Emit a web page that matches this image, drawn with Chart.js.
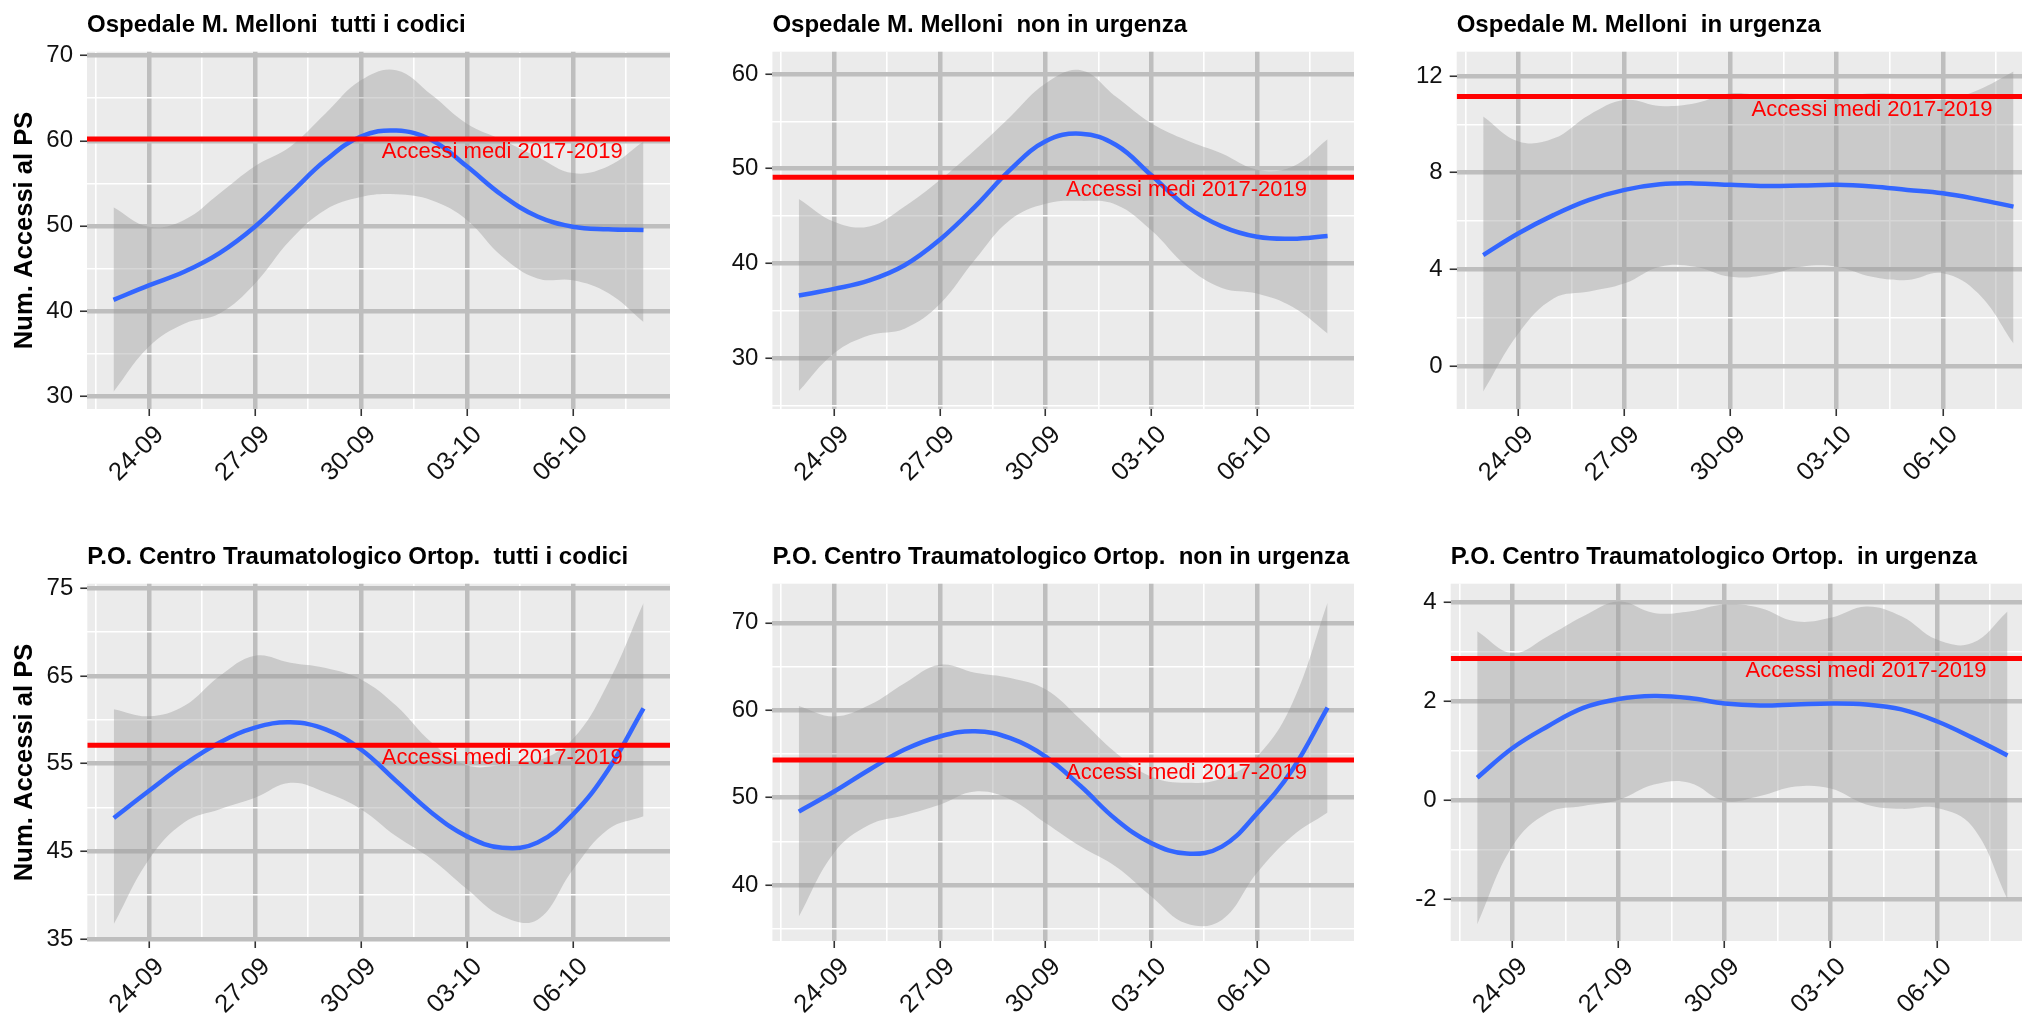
<!DOCTYPE html>
<html>
<head>
<meta charset="utf-8">
<script src="https://cdn.jsdelivr.net/npm/chart.js@4.4.0/dist/chart.umd.min.js"></script>
<style>
  html, body { margin: 0; padding: 0; background: #fff; overflow: hidden; }
  body { width: 2022px; height: 1016px; position: relative; }
  canvas { position: absolute; }
</style>
</head>
<body>
<canvas id="c1" width="680" height="484" style="left:0px;top:0px"></canvas>
<canvas id="c2" width="680" height="484" style="left:680px;top:0px"></canvas>
<canvas id="c3" width="690" height="484" style="left:1360px;top:0px"></canvas>
<canvas id="c4" width="680" height="484" style="left:0px;top:532px"></canvas>
<canvas id="c5" width="680" height="484" style="left:680px;top:532px"></canvas>
<canvas id="c6" width="690" height="484" style="left:1360px;top:532px"></canvas>
<script>
// days from 23-09 to 08-10
const dates = ["23-09", "24-09", "25-09", "26-09", "27-09", "28-09", "29-09", "30-09",
               "01-10", "02-10", "03-10", "04-10", "05-10", "06-10", "07-10", "08-10"];
const xMajor = [1, 4, 7, 10, 13];
const xMinor = [-0.5, 2.5, 5.5, 8.5, 11.5, 14.5];
const refText = "Accessi medi 2017-2019";
const refAt = 11; // 04-10

// Ospedale M. Melloni - tutti i codici
const p1Fit   = [41.3, 43.0, 44.6, 46.8, 49.9, 53.8, 57.7, 60.5, 61.2, 60.1, 57.0, 53.6, 51.1, 49.9, 49.6, 49.5];
const p1Upper = [52.2, 49.9, 50.7, 53.8, 57.0, 59.3, 63.2, 67.1, 68.3, 65.4, 62.0, 60.1, 58.1, 56.2, 57.0, 59.9];
const p1Lower = [30.5, 35.8, 38.5, 39.7, 43.2, 48.3, 51.9, 53.4, 53.7, 53.0, 50.7, 46.4, 43.8, 43.6, 42.1, 38.7];
const p1Mean = 60.2;
const p1Ticks = [30, 40, 50, 60, 70];
const p1Minor = [35, 45, 55, 65];

// Ospedale M. Melloni - non in urgenza
const p2Fit   = [36.6, 37.3, 38.2, 39.8, 42.5, 46.0, 49.9, 52.9, 53.7, 52.5, 49.3, 46.0, 43.9, 42.8, 42.6, 42.9];
const p2Upper = [46.8, 44.4, 43.9, 46.0, 48.8, 52.0, 55.5, 59.0, 60.4, 57.6, 54.8, 53.0, 51.6, 49.9, 50.2, 53.1];
const p2Lower = [26.5, 30.5, 32.4, 33.1, 35.7, 40.4, 44.6, 46.3, 46.6, 46.2, 43.5, 39.7, 37.4, 36.8, 35.4, 32.6];
const p2Mean = 49.1;
const p2Ticks = [30, 40, 50, 60];
const p2Minor = [25, 35, 45, 55];

// Ospedale M. Melloni - in urgenza
const p3Fit   = [4.6, 5.5, 6.26, 6.88, 7.29, 7.52, 7.56, 7.5, 7.45, 7.47, 7.5, 7.43, 7.29, 7.15, 6.9, 6.6];
const p3Upper = [10.32, 9.29, 9.42, 10.39, 11.0, 10.76, 10.87, 11.28, 11.15, 11.0, 11.08, 11.28, 11.21, 11.0, 11.42, 12.18];
const p3Lower = [-1.04, 1.37, 2.81, 3.09, 3.43, 4.12, 4.12, 3.7, 3.78, 4.12, 4.12, 3.7, 3.57, 3.85, 3.02, 0.95];
const p3Mean = 11.15;
const p3Ticks = [0, 4, 8, 12];
const p3Minor = [2, 6, 10];

// P.O. Centro Traumatologico Ortop. - tutti i codici
const p4Fit   = [48.8, 51.9, 54.9, 57.4, 59.1, 59.7, 58.9, 56.6, 53.0, 49.4, 46.7, 45.4, 46.0, 49.2, 54.3, 61.3];
const p4Upper = [61.2, 60.4, 61.6, 65.0, 67.3, 66.5, 65.9, 64.6, 61.6, 57.4, 54.8, 54.8, 55.3, 57.8, 64.2, 73.3];
const p4Lower = [36.7, 44.1, 48.3, 49.8, 51.1, 52.8, 51.7, 49.8, 46.7, 44.1, 40.7, 37.6, 37.2, 42.9, 47.5, 49.0];
const p4Mean = 57.1;
const p4Ticks = [35, 45, 55, 65, 75];
const p4Minor = [40, 50, 60, 70];

// P.O. Centro Traumatologico Ortop. - non in urgenza
const p5Fit   = [48.4, 50.7, 53.2, 55.5, 57.0, 57.6, 56.8, 54.7, 51.3, 47.5, 44.8, 43.6, 44.4, 48.2, 53.2, 60.3];
const p5Upper = [60.5, 59.3, 60.6, 63.1, 65.2, 64.3, 63.7, 62.4, 58.9, 55.1, 52.4, 51.7, 52.2, 54.7, 60.8, 72.3];
const p5Lower = [36.4, 43.7, 46.9, 48.0, 49.2, 50.7, 49.8, 47.1, 44.4, 42.1, 38.7, 35.6, 36.0, 41.4, 45.6, 48.3];
const p5Mean = 54.3;
const p5Ticks = [40, 50, 60, 70];
const p5Minor = [35, 45, 55, 65];

// P.O. Centro Traumatologico Ortop. - in urgenza
const p6Fit   = [0.45, 1.05, 1.49, 1.86, 2.04, 2.10, 2.06, 1.95, 1.91, 1.93, 1.95, 1.93, 1.83, 1.59, 1.26, 0.90];
const p6Upper = [3.41, 2.97, 3.31, 3.71, 4.01, 3.78, 3.81, 3.95, 3.88, 3.61, 3.68, 3.91, 3.71, 3.24, 3.17, 3.81];
const p6Lower = [-2.51, -0.93, -0.26, -0.12, 0.0, 0.31, 0.35, -0.02, 0.08, 0.27, 0.23, -0.09, -0.18, -0.16, -0.53, -2.0];
const p6Mean = 2.86;
const p6Ticks = [-2, 0, 2, 4];
const p6Minor = [-1, 1, 3];

Chart.defaults.font.family = "'Liberation Sans', Arial, sans-serif";

const panelBg = {
  id: "panelBg",
  beforeDraw(chart) {
    const a = chart.chartArea;
    const ctx = chart.ctx;
    ctx.save();
    ctx.fillStyle = "#EBEBEB";
    ctx.fillRect(a.left, a.top, a.width, a.height);
    ctx.restore();
  }
};

const refLabel = {
  id: "refLabel",
  afterDatasetsDraw(chart, args, opts) {
    const ctx = chart.ctx;
    const x = chart.scales.x.getPixelForValue(opts.at);
    const y = chart.scales.y.getPixelForValue(opts.value);
    ctx.save();
    ctx.font = "22px 'Liberation Sans', Arial, sans-serif";
    ctx.fillStyle = "#FF0000";
    ctx.textAlign = "center";
    ctx.textBaseline = "middle";
    ctx.fillText(opts.text, x, y + 13);
    ctx.restore();
  }
};

function pts(arr) {
  return arr.map((v, i) => ({ x: i, y: v }));
}

function makePanel(id, p) {
  const yAll = p.ticks.concat(p.minor).sort((a, b) => a - b);
  const xAll = xMajor.concat(xMinor).sort((a, b) => a - b);
  const xMin = -0.75, xMax = 15.75;
  const gridFor = (majors) => ({
    color: (c) => majors.includes(c.tick.value) ? "#BEBEBE" : "#FFFFFF",
    lineWidth: (c) => majors.includes(c.tick.value) ? 4.5 : 1.6,
    tickColor: (c) => majors.includes(c.tick.value) ? "#333333" : "rgba(0,0,0,0)",
    tickWidth: 1.6,
    tickLength: 7
  });

  new Chart(document.getElementById(id), {
    type: "line",
    data: {
      datasets: [
        {
          data: [{ x: xMin, y: p.mean }, { x: xMax, y: p.mean }],
          borderColor: "#FF0000",
          borderWidth: 5,
          pointRadius: 0,
          fill: false
        },
        {
          data: pts(p.fit),
          borderColor: "#3366FF",
          borderWidth: 4.5,
          pointRadius: 0,
          tension: 0.4,
          fill: false
        },
        {
          data: pts(p.upper),
          borderColor: "rgba(0,0,0,0)",
          borderWidth: 0,
          pointRadius: 0,
          tension: 0.4,
          backgroundColor: "rgba(153,153,153,0.4)",
          fill: "+1"
        },
        {
          data: pts(p.lower),
          borderColor: "rgba(0,0,0,0)",
          borderWidth: 0,
          pointRadius: 0,
          tension: 0.4,
          fill: false
        }
      ]
    },
    options: {
      responsive: false,
      animation: false,
      events: [],
      layout: { padding: { left: 0, right: p.padRight, top: 0, bottom: 0 } },
      scales: {
        x: {
          type: "linear",
          min: xMin,
          max: xMax,
          afterBuildTicks: (s) => { s.ticks = xAll.map((v) => ({ value: v })); },
          afterFit: (s) => { s.height = 75; },
          border: { display: false },
          grid: gridFor(xMajor),
          ticks: {
            autoSkip: false,
            maxRotation: 45,
            minRotation: 45,
            padding: 4,
            labelOffset: 11,
            color: "#111111",
            font: { size: 25.5 },
            callback: (v) => xMajor.includes(v) ? dates[v] : ""
          }
        },
        y: {
          min: p.yMin,
          max: p.yMax,
          afterBuildTicks: (s) => { s.ticks = yAll.map((v) => ({ value: v })); },
          afterFit: (s) => { s.width = p.yWidth; },
          border: { display: false },
          grid: gridFor(p.ticks),
          ticks: {
            padding: 7,
            color: "#111111",
            font: { size: 24 },
            callback: (v) => p.ticks.includes(v) ? String(v) : ""
          },
          title: {
            display: p.yTitle,
            text: "Num. Accessi al PS",
            color: "#000000",
            font: { size: 25.6, weight: "bold" },
            padding: { top: 10, bottom: 0 }
          }
        }
      },
      plugins: {
        legend: { display: false },
        tooltip: { enabled: false },
        title: {
          display: true,
          text: p.title,
          align: "start",
          fullSize: false,
          color: "#000000",
          font: { size: 24, weight: "bold" },
          padding: { top: 11.4, bottom: 11.5 }
        },
        refLabel: { text: refText, at: refAt, value: p.mean }
      }
    },
    plugins: [panelBg, refLabel]
  });
}

document.addEventListener("DOMContentLoaded", function () {
  makePanel("c1", { title: "Ospedale M. Melloni  tutti i codici", fit: p1Fit, upper: p1Upper, lower: p1Lower,
    mean: p1Mean, ticks: p1Ticks, minor: p1Minor, yMin: 28.47, yMax: 70.47, yWidth: 87, padRight: 10, yTitle: true });
  makePanel("c2", { title: "Ospedale M. Melloni  non in urgenza", fit: p2Fit, upper: p2Upper, lower: p2Lower,
    mean: p2Mean, ticks: p2Ticks, minor: p2Minor, yMin: 24.61, yMax: 62.36, yWidth: 92.4, padRight: 6, yTitle: false });
  makePanel("c3", { title: "Ospedale M. Melloni  in urgenza", fit: p3Fit, upper: p3Upper, lower: p3Lower,
    mean: p3Mean, ticks: p3Ticks, minor: p3Minor, yMin: -1.76, yMax: 13.0, yWidth: 96.7, padRight: 10, yTitle: false });
  makePanel("c4", { title: "P.O. Centro Traumatologico Ortop.  tutti i codici", fit: p4Fit, upper: p4Upper, lower: p4Lower,
    mean: p4Mean, ticks: p4Ticks, minor: p4Minor, yMin: 34.77, yMax: 75.51, yWidth: 87.3, padRight: 10, yTitle: true });
  makePanel("c5", { title: "P.O. Centro Traumatologico Ortop.  non in urgenza", fit: p5Fit, upper: p5Upper, lower: p5Lower,
    mean: p5Mean, ticks: p5Ticks, minor: p5Minor, yMin: 33.6, yMax: 74.48, yWidth: 92.4, padRight: 6, yTitle: false });
  makePanel("c6", { title: "P.O. Centro Traumatologico Ortop.  in urgenza", fit: p6Fit, upper: p6Upper, lower: p6Lower,
    mean: p6Mean, ticks: p6Ticks, minor: p6Minor, yMin: -2.85, yMax: 4.37, yWidth: 90.7, padRight: 16, yTitle: false });
});
</script>
</body>
</html>
